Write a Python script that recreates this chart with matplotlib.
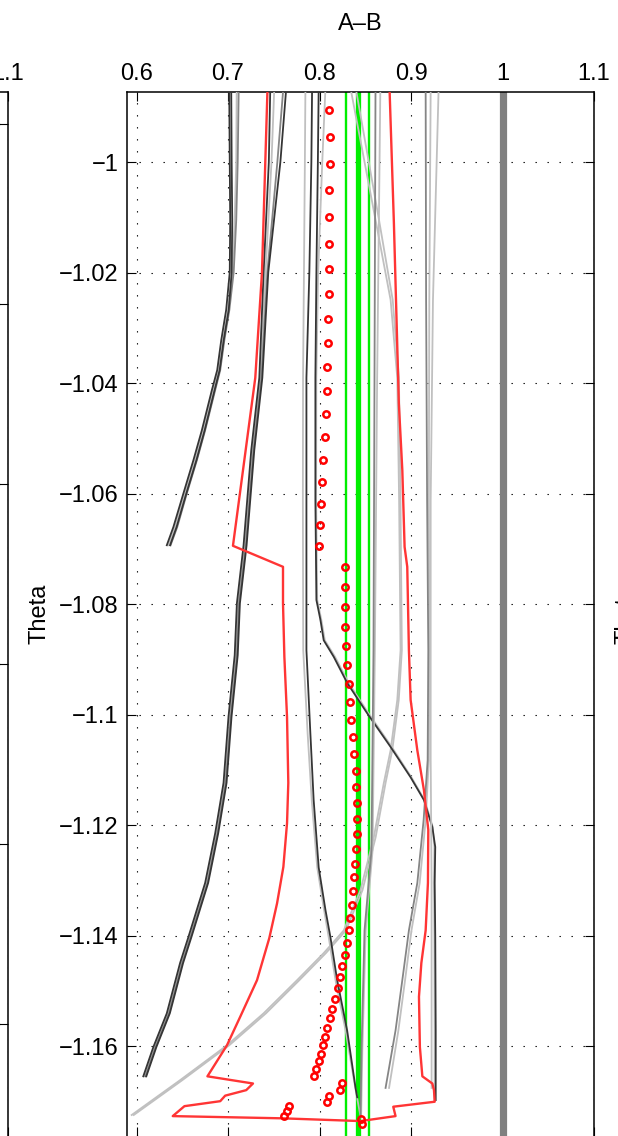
import matplotlib
matplotlib.use("Agg")
import matplotlib.pyplot as plt

plt.rcParams['font.family'] = ['Liberation Sans', 'DejaVu Sans']
plt.rcParams['font.size'] = 17

# ---- axis ticks ----
x_ticks = [0.6, 0.7, 0.8, 0.9, 1.0, 1.1]
x_labels = ['0.6', '0.7', '0.8', '0.9', '1', '1.1']
y_ticks = [-1.16, -1.14, -1.12, -1.10, -1.08, -1.06, -1.04, -1.02, -1.0]
y_labels = ['\u22121.16', '\u22121.14', '\u22121.12', '\u22121.1', '\u22121.08',
            '\u22121.06', '\u22121.04', '\u22121.02', '\u22121']
side_y_ticks = [-1.25, -1.20, -1.15, -1.10, -1.05, -1.0]

# ---- gray model curves ----
A_theta = [-0.9865, -1.0000, -1.0104, -1.0199, -1.0267, -1.0322, -1.0376, -1.0412, -1.0485, -1.0539, -1.0599, -1.0660, -1.0693]
A1 = [0.7013, 0.7019, 0.7024, 0.7019, 0.6980, 0.6926, 0.6882, 0.6824, 0.6714, 0.6622, 0.6513, 0.6403, 0.6331]
A2 = [0.7035, 0.7040, 0.7046, 0.7040, 0.7008, 0.6953, 0.6909, 0.6854, 0.6745, 0.6655, 0.6545, 0.6438, 0.6367]
A3 = [0.7095, 0.7090, 0.7073, 0.7046, 0.7000, 0.6945, 0.6898, 0.6840, 0.6730, 0.6640, 0.6530, 0.6420, 0.6350]
A4 = [0.7117, 0.7106, 0.7090, 0.7062, 0.7015, 0.6960, 0.6915, 0.6860, 0.6750, 0.6660, 0.6550, 0.6445, 0.6372]

B_theta = [-0.9865, -1.0000, -1.0199, -1.0390, -1.0521, -1.0693, -1.0798, -1.0892, -1.1004, -1.1123, -1.1214, -1.1304, -1.1402, -1.1449, -1.1540, -1.1601, -1.1654]
B1 = [0.7462, 0.7446, 0.7389, 0.7342, 0.7254, 0.7170, 0.7097, 0.7073, 0.7005, 0.6951, 0.6860, 0.6750, 0.6567, 0.6476, 0.6331, 0.6184, 0.6074]
B2 = [0.7637, 0.7572, 0.7440, 0.7375, 0.7287, 0.7203, 0.7130, 0.7106, 0.7038, 0.6984, 0.6893, 0.6783, 0.6600, 0.6509, 0.6364, 0.6217, 0.6107]
B3 = [0.7506, 0.7475, 0.7410, 0.7355, 0.7268, 0.7185, 0.7112, 0.7088, 0.7020, 0.6966, 0.6875, 0.6765, 0.6582, 0.6492, 0.6347, 0.6200, 0.6090]
B4 = [0.7605, 0.7539, 0.7430, 0.7365, 0.7278, 0.7195, 0.7120, 0.7097, 0.7030, 0.6975, 0.6885, 0.6775, 0.6590, 0.6500, 0.6355, 0.6208, 0.6098]

C1_theta = [-0.9865, -1.0000, -1.0199, -1.0390, -1.0611, -1.0883, -1.1033, -1.1154, -1.1276, -1.1353, -1.1402, -1.1480, -1.1571, -1.1674, -1.1692]
C1 = [0.7919, 0.7911, 0.7889, 0.7857, 0.7857, 0.7857, 0.7900, 0.7936, 0.7991, 0.8065, 0.8119, 0.8193, 0.8302, 0.8393, 0.8412]
C3_theta = [-0.9865, -1.0000, -1.0199, -1.0390, -1.0611, -1.0883, -1.1033, -1.1154, -1.1276, -1.1353, -1.1402, -1.1480, -1.1571, -1.1674, -1.1728]
C3 = [0.7846, 0.7840, 0.7830, 0.7820, 0.7818, 0.7822, 0.7870, 0.7915, 0.7975, 0.8050, 0.8100, 0.8175, 0.8285, 0.8390, 0.8450]

C2_theta = [-0.9865, -1.0000, -1.0199, -1.0390, -1.0611, -1.0792, -1.0828, -1.0865, -1.0895, -1.0942, -1.0997, -1.1058, -1.1113, -1.1154, -1.1203, -1.1239, -1.1304, -1.1402, -1.1571, -1.1697]
C2 = [0.7991, 0.7982, 0.7966, 0.7955, 0.7955, 0.7966, 0.8010, 0.8046, 0.8156, 0.8302, 0.8521, 0.8777, 0.8996, 0.9141, 0.9233, 0.9265, 0.9259, 0.9265, 0.9270, 0.9270]
C4 = [0.8065, 0.8030, 0.7985, 0.7965, 0.7963, 0.7975, 0.8020, 0.8058, 0.8170, 0.8318, 0.8535, 0.8790, 0.9005, 0.9148, 0.9238, 0.9255, 0.9250, 0.9255, 0.9258, 0.9258]

D_theta = [-0.9865, -1.0104, -1.0249, -1.0390, -1.0611, -1.0883, -1.0973, -1.1064, -1.1123, -1.1221, -1.1317, -1.1390, -1.1431, -1.1480, -1.1540, -1.1598, -1.1661, -1.1724]
D1 = [0.8338, 0.8612, 0.8777, 0.8850, 0.8870, 0.8886, 0.8850, 0.8777, 0.8703, 0.8594, 0.8448, 0.8265, 0.8046, 0.7755, 0.7389, 0.6988, 0.6476, 0.5947]
D2 = [0.8395, 0.8650, 0.8800, 0.8868, 0.8885, 0.8900, 0.8866, 0.8795, 0.8722, 0.8614, 0.8470, 0.8288, 0.8070, 0.7780, 0.7415, 0.7012, 0.6500, 0.5970]

E_theta = [-0.9865, -1.0390, -1.0883, -1.1245, -1.1390, -1.1607, -1.1728]
E1 = [0.8612, 0.8601, 0.8590, 0.8568, 0.8492, 0.8459, 0.8448]
E2 = [0.8665, 0.8630, 0.8605, 0.8580, 0.8505, 0.8468, 0.8455]

F_theta = [-0.9865, -1.0249, -1.0611, -1.0883, -1.1082, -1.1190, -1.1304, -1.1390, -1.1480, -1.1571, -1.1675]
F1 = [0.9160, 0.9165, 0.9176, 0.9189, 0.9182, 0.9138, 0.9069, 0.8977, 0.8905, 0.8831, 0.8722]
F2 = [0.9215, 0.9200, 0.9195, 0.9200, 0.9195, 0.9160, 0.9095, 0.9005, 0.8935, 0.8862, 0.8760]
F3 = [0.9302, 0.9240, 0.9215, 0.9215, 0.9215, 0.9220, 0.9225, 0.9225, 0.9225, 0.9225, 0.9225]

# ---- red envelope (closed outline) ----
env_theta = [-0.9865, -1.0200, -1.0390, -1.0694, -1.0732, -1.0798, -1.0895, -1.1004, -1.1123, -1.1196,
             -1.1275, -1.1341, -1.1404, -1.1480, -1.1546, -1.1598, -1.1654, -1.1667, -1.1679, -1.1689,
             -1.1699, -1.1708, -1.1726, -1.1730, -1.1735, -1.1726, -1.1709, -1.1700, -1.1679, -1.1667,
             -1.1654, -1.1601, -1.1510, -1.1449, -1.1390, -1.1304, -1.1208, -1.1136, -1.1064, -1.0973,
             -1.0883, -1.0732, -1.0696, -1.0557, -1.0436, -1.0110, -0.9865]
env_val = [0.7432, 0.7371, 0.7298, 0.7054, 0.7601, 0.7601, 0.7616, 0.7645, 0.7659, 0.7645,
           0.7605, 0.7536, 0.7451, 0.7317, 0.7134, 0.6988, 0.6775, 0.7273, 0.7199, 0.6969,
           0.6915, 0.6524, 0.6396, 0.7590, 0.8448, 0.8831, 0.8806, 0.9259, 0.9251, 0.9233,
           0.9124, 0.9097, 0.9087, 0.9113, 0.9160, 0.9185, 0.9189, 0.9141, 0.9069, 0.8996,
           0.8977, 0.8959, 0.8930, 0.8905, 0.8867, 0.8813, 0.8765]

# ---- red circles ----
circ_theta = [-0.9905, -0.9955, -1.0003, -1.0051, -1.0099, -1.0147, -1.0193, -1.0238, -1.0283, -1.0327,
              -1.0370, -1.0413, -1.0456, -1.0497, -1.0538, -1.0579, -1.0618, -1.0657, -1.0695,
              -1.0733, -1.0769, -1.0805, -1.0841, -1.0876, -1.0910, -1.0944, -1.0977, -1.1009, -1.1040,
              -1.1071, -1.1102, -1.1131, -1.1160, -1.1188, -1.1215, -1.1243, -1.1269, -1.1294, -1.1319,
              -1.1344, -1.1367, -1.1390, -1.1413, -1.1434, -1.1455, -1.1475, -1.1495, -1.1514, -1.1532,
              -1.1549, -1.1566, -1.1583, -1.1598, -1.1613, -1.1627, -1.1641, -1.1654,
              -1.1666, -1.1678, -1.1689, -1.1700, -1.1708, -1.1717, -1.1726, -1.1732, -1.1741]
circ_val = [0.8108, 0.8112, 0.8112, 0.8108, 0.8108, 0.8108, 0.8105, 0.8101, 0.8097, 0.8090,
            0.8083, 0.8079, 0.8068, 0.8057, 0.8043, 0.8032, 0.8021, 0.8010, 0.7999,
            0.8284, 0.8284, 0.8284, 0.8284, 0.8291, 0.8298, 0.8317, 0.8331, 0.8349, 0.8368,
            0.8382, 0.8396, 0.8404, 0.8412, 0.8415, 0.8412, 0.8404, 0.8393, 0.8382, 0.8368,
            0.8353, 0.8338, 0.8322, 0.8298, 0.8276, 0.8251, 0.8221, 0.8199, 0.8171, 0.8141,
            0.8112, 0.8087, 0.8065, 0.8039, 0.8013, 0.7991, 0.7966, 0.7944,
            0.8243, 0.8221, 0.8105, 0.8083, 0.7667, 0.7645, 0.7616, 0.8448, 0.8467]

# ---- reference lines ----
green_thin = [0.8292, 0.8543]
green_thick = 0.8419
unity = 1.0

dark = '#353535'
mid = '#858585'
light = '#c0c0c0'
curves = [
    (A_theta, A3, light), (A_theta, A4, mid), (A_theta, A1, dark), (A_theta, A2, dark),
    (B_theta, B3, light), (B_theta, B4, mid), (B_theta, B1, dark), (B_theta, B2, dark),
    (D_theta, D2, light), (D_theta, D1, light),
    (C3_theta, C3, light), (C2_theta, C4, light), (C1_theta, C1, dark), (C2_theta, C2, dark),
    (E_theta, E2, light), (E_theta, E1, mid),
    (F_theta, F3, light), (F_theta, F2, light), (F_theta, F1, mid),
]

W, H = 618.0, 1136.0
ax_left, ax_w, ax_top = 127.0, 467.0, 92.0
pitch = 586.0


def style(ax, ylim, yticks, ylabels, label_px):
    ax.set_xlim(0.5896, 1.1)
    ax.set_ylim(*ylim)
    ax.set_xticks(x_ticks)
    ax.set_xticklabels(x_labels)
    ax.set_yticks(yticks)
    ax.set_yticklabels(ylabels)
    ax.tick_params(direction='in', length=6.5, width=0.8, top=True, bottom=True,
                   left=True, right=True, labeltop=True, labelbottom=False, labelsize=17)
    ax.tick_params(axis='x', pad=5)
    ax.tick_params(axis='y', pad=6)
    ax.grid(True, linestyle=(0, (1.2, 9.6)), linewidth=0.8, color='k')
    ax.spines['bottom'].set_visible(False)
    for s in ['top', 'left', 'right']:
        ax.spines[s].set_linewidth(1.1)
    ax.text(label_px / ax_w, 0.5, 'Theta', rotation=90, ha='center', va='center',
            transform=ax.transAxes, fontsize=17)


fig = plt.figure(figsize=(W / 100, H / 100), dpi=100)
pos_h = (H - ax_top) / H
axes = []
for k in (-1, 0, 1):
    a = fig.add_axes([(ax_left + k * pitch) / W, 0.0, ax_w / W, pos_h])
    axes.append(a)

side_labels = ['%g' % t for t in side_y_ticks]
style(axes[0], (-1.2811, -0.9911), side_y_ticks, side_labels, 39 - ax_left)
style(axes[2], (-1.2811, -0.9911), side_y_ticks, side_labels, 40 - ax_left)
ax = axes[1]
style(ax, (-1.1762, -0.98728), y_ticks, y_labels, 39 - ax_left)

for g in green_thin:
    ax.axvline(g, color='#00ee00', lw=1.7, zorder=2)
ax.axvline(green_thick, color='#00ee00', lw=3.8, zorder=2)
ax.axvline(unity, color='#808080', lw=5.2, zorder=2)

for th, val, col in curves:
    ax.plot(val, th, color=col, lw=1.3, zorder=3)

ax.plot(env_val, env_theta, color='#ff3535', lw=1.7, zorder=4)
ax.plot(circ_val, circ_theta, linestyle='none', marker='o', ms=4.6, mew=1.8,
        mfc='none', mec='#ff0000', zorder=5)

fig.text(360.5 / W, 1 - 24 / H, 'A\u2013B', ha='center', va='center', fontsize=17)

fig.savefig('out.png', dpi=100)
